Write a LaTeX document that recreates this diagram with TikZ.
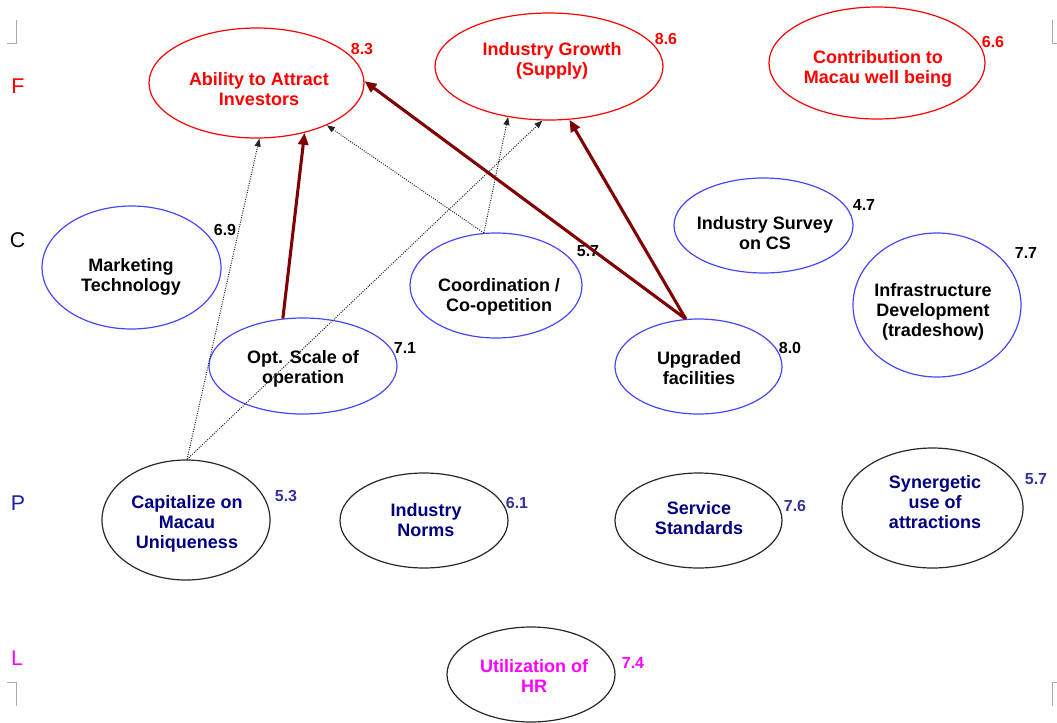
\documentclass[tikz,border=0pt]{standalone}
\usepackage{fontspec}
\setmainfont{Liberation Sans}
\usetikzlibrary{shapes.geometric,arrows.meta}
\definecolor{fred}{RGB}{255,0,0}
\definecolor{eblue}{RGB}{70,70,255}
\definecolor{egray}{RGB}{40,40,40}
\definecolor{pnavy}{RGB}{0,0,128}
\definecolor{pnum}{RGB}{51,51,153}
\definecolor{plab}{RGB}{30,30,170}
\definecolor{lmag}{RGB}{255,0,255}
\definecolor{maroonx}{RGB}{128,0,0}
\definecolor{markgray}{RGB}{170,170,170}
\begin{document}
\begin{tikzpicture}[x=0.75pt,y=-0.75pt,
  ell/.style={ellipse, inner sep=0pt, line width=0.9pt},
  fell/.style={ell, draw=fred},
  cell/.style={ell, draw=eblue},
  pell/.style={ell, draw=egray},
  txt/.style={align=center, inner sep=0pt, font=\bfseries\fontsize{13.5}{15}\selectfont},
  ftxt/.style={txt, text=fred},
  ctxt/.style={txt, text=black},
  ptxt/.style={txt, text=pnavy},
  ltxt/.style={txt, text=lmag},
  num/.style={inner sep=0pt, font=\bfseries\fontsize{12}{14}\selectfont},
  rowlab/.style={inner sep=0pt, font=\fontsize{16}{18}\selectfont},
  strong/.style={draw=maroonx, line width=2.3pt, -{Triangle[length=9pt,width=7.5pt]}},
  weak/.style={draw=black!85, densely dotted, line width=0.75pt, -{Triangle[length=6pt,width=4.5pt]}},
  cropmark/.style={draw=markgray, line width=0.75pt}
]
\useasboundingbox (0,0) rectangle (1057,722);

% crop marks
\draw[cropmark] (7,43) -- (16,43) -- (16,20);
\draw[cropmark] (1057,43) -- (1052,43) -- (1052,20);
\draw[cropmark] (7,682) -- (16,682) -- (16,706);
\draw[cropmark] (1057,682) -- (1052,682) -- (1052,706);

% row labels
\node[rowlab, text=fred] (labF) at (18,86) {F};
\node[rowlab, text=black] (labC) at (17.5,240) {C};
\node[rowlab, text=plab] (labP) at (18,503) {P};
\node[rowlab, text=lmag] (labL) at (17,658) {L};

% F row
\node[fell, minimum width=161.25pt, minimum height=82.5pt] (abil) at (256.5,83) {};
\node[ftxt] (abilT) at (259,89) {Ability to Attract\\Investors};
\node[num, text=fred] (abilN) at (362,49) {8.3};

\node[fell, minimum width=171pt, minimum height=80.25pt] (ig) at (549,66.5) {};
\node[ftxt] (igT) at (552,60.5) {Industry Growth\\(Supply)};
\node[num, text=fred] (igN) at (666,39) {8.6};

\node[fell, minimum width=162pt, minimum height=84pt] (contr) at (877,63) {};
\node[ftxt] (contrT) at (878,68.5) {Contribution to\\Macau well being};
\node[num, text=fred] (contrN) at (993,42) {6.6};

% C row
\node[cell, minimum width=134.25pt, minimum height=92.25pt] (mkt) at (131.5,267.5) {};
\node[ctxt] (mktT) at (131,277) {Marketing\\Technology};
\node[num] (mktN) at (225,230) {6.9};

\node[cell, minimum width=141pt, minimum height=72pt] (opt) at (303,366) {};
\node[ctxt] (optT) at (303,369) {Opt. Scale of\\operation};
\node[num] (optN) at (405,348) {7.1};

\node[cell, minimum width=129pt, minimum height=78.75pt] (coord) at (496,285.5) {};
\node[ctxt] (coordT) at (499,297) {Coordination /\\Co-opetition};
\node[num] (coordN) at (588,251) {5.7};

\node[cell, minimum width=134.25pt, minimum height=71.25pt] (surv) at (763.5,225.5) {};
\node[ctxt] (survT) at (765,233.5) {Industry Survey\\on CS};
\node[num] (survN) at (864,205) {4.7};

\node[cell, minimum width=126pt, minimum height=108pt] (infra) at (937,305) {};
\node[ctxt] (infraT) at (933,311.5) {Infrastructure\\Development\\(tradeshow)};
\node[num] (infraN) at (1026,253) {7.7};

\node[cell, minimum width=125.25pt, minimum height=71.25pt] (upg) at (698.5,366.5) {};
\node[ctxt] (upgT) at (699,368.5) {Upgraded\\facilities};
\node[num] (upgN) at (790,348) {8.0};

% P row
\node[pell, minimum width=126pt, minimum height=90pt] (cap) at (186,520) {};
\node[ptxt] (capT) at (187,524) {Capitalize on\\Macau\\Uniqueness};
\node[num, text=pnum] (capN) at (286,496) {5.3};

\node[pell, minimum width=126pt, minimum height=71.25pt] (norm) at (424,520.5) {};
\node[ptxt] (normT) at (426,520) {Industry\\Norms};
\node[num, text=pnum] (normN) at (517,503) {6.1};

\node[pell, minimum width=125.25pt, minimum height=71.25pt] (serv) at (698.5,520.5) {};
\node[ptxt] (servT) at (699,518) {Service\\Standards};
\node[num, text=pnum] (servN) at (795,506) {7.6};

\node[pell, minimum width=135.75pt, minimum height=90pt] (syn) at (932.5,508) {};
\node[ptxt] (synT) at (935,502) {Synergetic\\use of\\attractions};
\node[num, text=pnum] (synN) at (1036,479) {5.7};

% L row
\node[pell, minimum width=126pt, minimum height=71.25pt] (hr) at (531,674.5) {};
\node[ltxt] (hrT) at (534,675.5) {Utilization of\\HR};
\node[num, text=lmag] (hrN) at (633,663) {7.4};

% connectors
\draw[weak] (cap.89) -- (abil.-87.6);
\draw[weak] (cap.89) -- (ig.-97.9);
\draw[weak] (coord.103.9) -- (abil.-31.9);
\draw[weak] (coord.103.9) -- (ig.-129.2);
\draw[strong] (opt.113.6) -- (abil.-46);
\draw[strong] (upg.105.3) -- (abil.1);
\draw[strong] (upg.105.3) -- (ig.-69.7);
\end{tikzpicture}
\end{document}
